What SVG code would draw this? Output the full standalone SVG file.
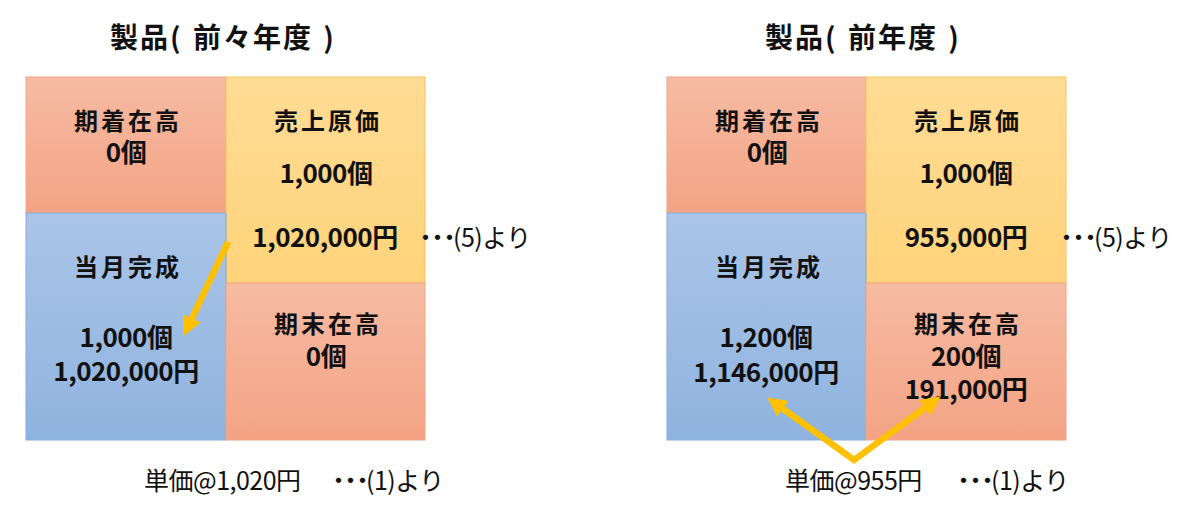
<svg xmlns="http://www.w3.org/2000/svg" width="1200" height="519" viewBox="0 0 1200 519">
  <defs>
    <linearGradient id="gSalmon" x1="0" y1="0" x2="0" y2="1">
      <stop offset="0" stop-color="#F6BBA3"/>
      <stop offset="1" stop-color="#F4A384"/>
    </linearGradient>
    <linearGradient id="gYellow" x1="0" y1="0" x2="0" y2="1">
      <stop offset="0" stop-color="#FFDC95"/>
      <stop offset="1" stop-color="#FFD37A"/>
    </linearGradient>
    <linearGradient id="gBlue" x1="0" y1="0" x2="0" y2="1">
      <stop offset="0" stop-color="#AAC5E7"/>
      <stop offset="1" stop-color="#8FB3DF"/>
    </linearGradient>
    <marker id="ah" viewBox="0 0 10 10" refX="3" refY="5" markerWidth="3" markerHeight="3" orient="auto-start-reverse" markerUnits="strokeWidth">
      <path d="M0,0 L10,5 L0,10 Z" fill="#FFC000"/>
    </marker>
  </defs>
  <style>
    .salmon { fill: url(#gSalmon); stroke: #EFA58A; stroke-width: 1; }
    .yellow { fill: url(#gYellow); stroke: #F6C55A; stroke-width: 1; }
    .blue { fill: url(#gBlue); stroke: #8AAAD6; stroke-width: 1; }
    .title { font-family: "Noto Sans CJK JP", sans-serif; font-weight: 700; font-size: 28px; fill: #111; text-anchor: middle; letter-spacing: 2px; word-spacing: 2px; }
    .lbl { font-family: "Noto Sans CJK JP", sans-serif; font-weight: 700; font-size: 24px; fill: #111; text-anchor: middle; letter-spacing: 3px; }
    .num { font-family: "Noto Sans CJK JP", sans-serif; font-weight: 700; font-size: 26px; fill: #111; text-anchor: middle; letter-spacing: -0.5px; }
    .note { font-family: "Noto Sans CJK JP", sans-serif; font-weight: 400; font-size: 25px; fill: #111; letter-spacing: -0.5px; }
    .dots { letter-spacing: -13px; }
    .arrow { fill: none; stroke: #FFC000; stroke-width: 6.5; stroke-linejoin: miter; marker-end: url(#ah); }
  </style>
  <rect width="1200" height="519" fill="#FFFFFF"/>

  <!-- Left diagram: 前々年度 -->
  <text id="title-left" class="title" x="223" y="48">製品( 前々年度 )</text>

  <g id="L-kishu">
    <rect class="salmon" x="26" y="77" width="200" height="136"/>
    <text class="lbl" x="128" y="130">期着在高</text>
    <text class="num" x="126" y="162">0個</text>
  </g>
  <g id="L-uriage">
    <rect class="yellow" x="226" y="77" width="199" height="206"/>
    <text class="lbl" x="328" y="130">売上原価</text>
    <text class="num" x="326" y="183">1,000個</text>
    <text class="num" x="325" y="247">1,020,000円</text>
  </g>
  <g id="L-kansei">
    <rect class="blue" x="26" y="213" width="200" height="227"/>
    <text class="lbl" x="128" y="276">当月完成</text>
    <text class="num" x="126" y="347">1,000個</text>
    <text class="num" x="126" y="381">1,020,000円</text>
  </g>
  <g id="L-kimatsu">
    <rect class="salmon" x="226" y="283" width="199" height="157"/>
    <text class="lbl" x="328" y="333">期末在高</text>
    <text class="num" x="326" y="366">0個</text>
  </g>
  <g id="L-notes">
    <text class="note" x="413" y="247"><tspan class="dots">・・・</tspan><tspan dx="4">(5)より</tspan></text>
    <text class="note" x="144" y="490">単価@1,020円</text>
    <text class="note" x="326" y="490"><tspan class="dots">・・・</tspan><tspan dx="4">(1)より</tspan></text>
  </g>

  <!-- Right diagram: 前年度 -->
  <text id="title-right" class="title" x="863" y="48">製品( 前年度 )</text>

  <g id="R-kishu">
    <rect class="salmon" x="667" y="77" width="199" height="136"/>
    <text class="lbl" x="769" y="130">期着在高</text>
    <text class="num" x="767" y="162">0個</text>
  </g>
  <g id="R-uriage">
    <rect class="yellow" x="866" y="77" width="200" height="206"/>
    <text class="lbl" x="968" y="130">売上原価</text>
    <text class="num" x="966" y="183">1,000個</text>
    <text class="num" x="966" y="247">955,000円</text>
  </g>
  <g id="R-kansei">
    <rect class="blue" x="667" y="213" width="199" height="227"/>
    <text class="lbl" x="769" y="276">当月完成</text>
    <text class="num" x="766" y="347">1,200個</text>
    <text class="num" x="766" y="382">1,146,000円</text>
  </g>
  <g id="R-kimatsu">
    <rect class="salmon" x="866" y="283" width="200" height="157"/>
    <text class="lbl" x="968" y="333">期末在高</text>
    <text class="num" x="966" y="366">200個</text>
    <text class="num" x="966" y="399">191,000円</text>
  </g>
  <g id="R-notes">
    <text class="note" x="1054" y="247"><tspan class="dots">・・・</tspan><tspan dx="4">(5)より</tspan></text>
    <text class="note" x="785" y="490">単価@955円</text>
    <text class="note" x="951" y="490"><tspan class="dots">・・・</tspan><tspan dx="4">(1)より</tspan></text>
  </g>

  <g id="connectors">
    <path class="arrow" d="M228,242 L189.4,323.6"/>
    <path class="arrow" d="M778.2,405.4 L854,460 L929.8,404.4" style="marker-start:url(#ah)"/>
  </g>
</svg>
